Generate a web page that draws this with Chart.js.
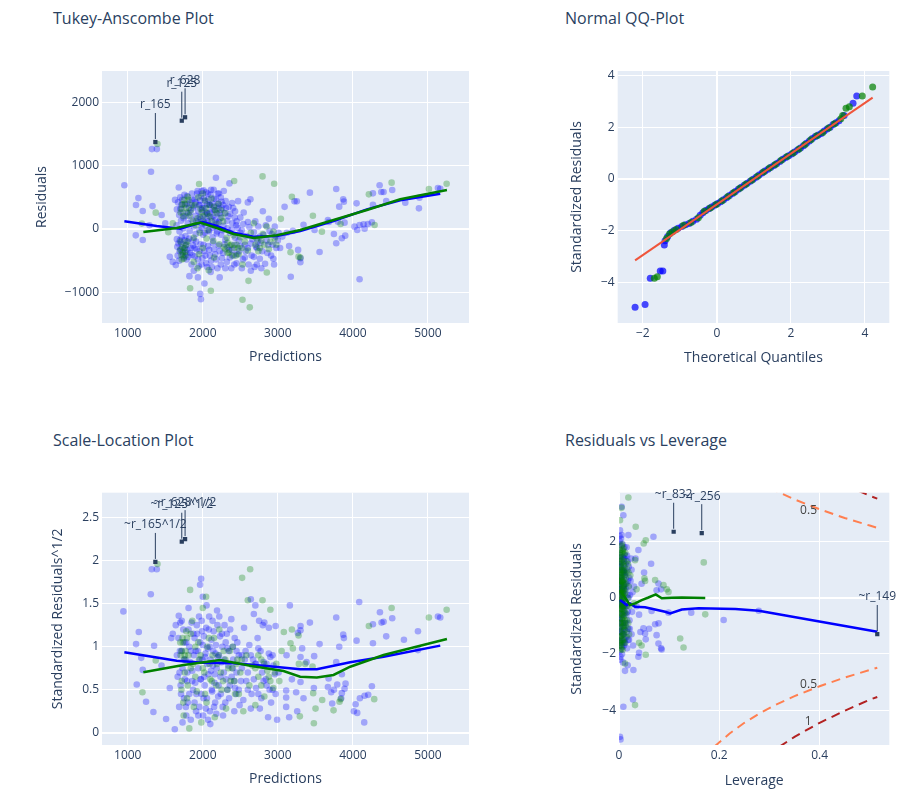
<!DOCTYPE html>
<html>
<head>
<meta charset="utf-8">
<script src="https://cdn.jsdelivr.net/npm/chart.js@4.4.1/dist/chart.umd.min.js"></script>
<style>
  body { margin: 0; background: #fff; font-family: "Open Sans", sans-serif; }
  #page { position: relative; width: 908px; height: 797px; overflow: hidden; }
  canvas { position: absolute; }
  .ttl { position: absolute; font-size: 16px; line-height: 20px; color: #2a3f5f; white-space: nowrap; }
</style>
</head>
<body>
<div id="page">
  <div class="ttl" style="left:53px;top:8px">Tukey-Anscombe Plot</div>
  <div class="ttl" style="left:565px;top:8px">Normal QQ-Plot</div>
  <div class="ttl" style="left:53px;top:430px">Scale-Location Plot</div>
  <div class="ttl" style="left:565px;top:430px">Residuals vs Leverage</div>
  <canvas id="ta" width="480" height="398" style="left:0;top:0"></canvas>
  <canvas id="qq" width="428" height="398" style="left:480px;top:0"></canvas>
  <canvas id="sl" width="480" height="397" style="left:0;top:400px"></canvas>
  <canvas id="rl" width="428" height="397" style="left:480px;top:400px"></canvas>
</div>
<script>
/* ============================================================
   DATA
============================================================ */
// Tukey-Anscombe: [prediction, residual]
const TA_BLUE = [
  [955,690],[1310,905],[1322,1262],[1388,1262],[1142,488],[1110,380],[1200,284],[1330,362],[1452,222],[1107,-100],[1200,-174],[1290,60],[1500,90],
  [1630,460],[1680,655],[1700,320],[1725,460],[1745,170],[1760,380],[1790,520],[1810,250],[1830,420],[1855,560],[1870,330],[1895,470],[1910,210],
  [1930,600],[1950,380],[1975,520],[1990,300],[2010,610],[2030,440],[2050,260],[2070,560],[2090,380],[2110,620],[2130,300],[2150,480],[2175,810],
  [2180,360],[2200,560],[2225,250],[2250,430],[2280,600],[2310,330],[2340,200],[2355,720],[2390,410],[2430,280],[2470,440],[2500,180],[2545,260],
  [2600,420],[2635,470],
  [1650,60],[1690,-40],[1710,130],[1740,10],[1770,-110],[1800,90],[1825,-30],[1850,150],[1880,40],[1905,-80],[1935,110],[1960,190],[1985,20],
  [2005,130],[2025,-60],[2055,160],[2080,-20],[2105,70],[2130,-130],[2160,40],[2190,-40],[2215,110],[2245,-90],[2275,50],[2300,-170],[2330,10],
  [2360,-60],[2395,90],[2430,-140],[2465,20],[2500,-60],[2540,80],[2580,-110],[2620,30],[2660,-160],[2700,120],[2730,-200],
  [1660,-280],[1690,-350],[1715,-230],[1735,-420],[1760,-300],[1785,-480],[1800,-200],[1830,-380],[1850,-560],[1870,-260],[1895,-430],[1920,-320],
  [1945,-590],[1970,-240],[1995,-460],[2020,-350],[2045,-540],[2070,-270],[2095,-420],[2120,-600],[2150,-320],[2180,-480],[2210,-260],[2240,-560],
  [2270,-380],[2300,-620],[2330,-290],[2360,-450],[2390,-330],[2420,-560],[2460,-400],[2500,-270],[2535,-480],[2570,-350],[2610,-560],[2650,-420],
  [2690,-600],[2720,-300],[2760,-470],[2790,-350],[2830,-550],[2870,-250],[2910,-420],[2950,-560],[2980,-300],
  [1560,-440],[1600,-520],[1640,-570],[1822,-745],[1935,-765],[2022,-860],[1965,-1025],[1975,-1110],[2225,-765],[2105,-680],[1880,-660],
  [2760,-120],[2800,280],[2840,60],[2880,160],[2920,-80],[2960,40],[3000,-180],[3030,-300],[3060,-120],[3090,350],[3120,-60],[3150,-270],
  [3172,-755],[3200,-30],[3222,437],[3253,437],[3270,-330],[3300,-525],[3302,-463],[3342,68],[3427,574],[3489,-16],[3556,-363],[3667,142],
  [3680,110],[3747,-79],[3778,632],[3778,-226],[3800,116],[3818,353],[3853,-147],[3871,468],[3880,432],[3889,100],[3898,-105],[4022,37],
  [4049,405],[4058,-16],[4089,63],[4089,-795],[4142,74],[4156,5],[4200,79],[4253,105],[4267,563],[4267,384],[4356,690],[4378,584],[4409,584],
  [4444,442],[4524,616],[4698,416],[4880,326],[4887,495],[5133,647],[5164,637],
  [1905,420],[1915,120],[1925,560],[1940,280],[1955,-20],[1965,450],[1975,160],[1985,600],[1995,330],[2005,-90],[2015,490],[2025,230],[2035,50],
  [2045,580],[2055,390],[2065,120],[2075,470],[2085,-40],[2095,260],[2105,540],[2115,180],[2125,400],[2135,20],[2145,620],[2155,300],[2165,140],
  [2175,470],[2185,-70],[2195,240],[2205,400],[2215,560],[2235,170],[2255,330],[2265,-20],[2285,250],[2305,440],[2325,130],[2345,350],[2365,240],
  [2385,-10],[2405,330],[2425,180],[2445,60],[1960,380],[1990,80],[2020,340],[2060,240],[2100,380],[2140,200],[2180,100],[2210,330],[2240,500],
  [2270,380],
  [1655,-160],[1665,-420],[1675,-230],[1685,-500],[1695,-180],[1705,-320],[1720,-130],[1730,-360],[1750,-450],[1755,-180],[1770,-260],[1780,-380],
  [1795,-330],[1810,-440],[1820,-150],[1840,-300],[1860,-410],[1875,-170],[1890,-300],
  [1655,310],[1670,420],[1685,220],[1700,500],[1715,380],[1735,260],[1755,540],[1770,200],[1790,400],[1815,330],[1835,260],[1860,460],[1880,360],
  [1910,-200],[1935,-480],[1960,-350],[1985,-560],[2010,-250],[2035,-420],[2060,-600],[2085,-330],[2110,-500],[2135,-220],[2165,-400],[2195,-620],
  [2225,-350],[2255,-460],[2290,-240],[2320,-520],[2350,-330],[2380,-620],[2410,-420],[2450,-540],[2480,-350],[2520,-620],[2560,-450],[2600,-300],
  [2640,-660],[2680,-440],[2720,-560],[2780,-620],[2860,-380],[2940,-470],
  [2420,-250],[2450,120],[2480,-180],[2520,-20],[2560,-250],[2600,110],[2640,-230],[2680,-50],[2710,-280],[2740,40],[2770,-220],[2810,-90],
  [2850,-180],[2890,-30],[2930,-250],[2970,-120],[3010,-60]
];
const TA_GREEN = [
  [1396,1342],[1373,258],[1187,85],[1951,710],[2418,758],[2796,831],[2951,716],[3187,510],[3467,210],[3587,-42],[3836,79],[4213,547],[4289,63],
  [4516,732],[5013,632],[5249,716],[3169,-368],[3276,-437],[3300,-450],
  [1700,-330],[1715,-410],[1730,-290],[1745,-470],[1765,-360],[1780,-250],[1705,260],[1725,390],[1750,460],[1780,330],[1800,510],[1825,210],
  [1850,380],[1880,-140],[1905,60],[1930,170],[1960,-60],[1985,260],[2000,560],[2015,100],[2040,330],[2065,-20],[2090,200],[2115,480],[2140,-190],
  [2165,300],[2195,80],[2220,-240],[2250,180],[2280,-290],[2300,250],[2320,-140],[2350,-370],[2380,-250],[2410,-100],[2440,-420],[2470,-300],
  [2500,-130],[2530,-560],[2560,-200],[2600,-340],[2640,-60],[2680,90],[2720,-150],[2760,-300],[2800,-80],[2850,40],[2900,-200],[2940,-40],
  [2980,-250],[3040,160],
  [1831,-936],[2107,-975],[2529,-1117],[2626,-1238],[2609,-819],[2853,-687],[2080,-650],[1930,-620],[1540,-50],[1600,90],
  [1705,-200],[1720,-480],[1735,-380],[1755,-300],[1770,-420],[1790,-200],[1715,320],[1740,200],[1760,400],[1790,260],[1810,460],[1840,300],
  [1870,120],[1900,380],[1940,500],[1970,320],[2000,200],[2030,450],[2060,250],[2090,380],[2120,120],[2150,350],[2180,250],[2210,400],[2240,300],
  [2270,120],[2300,-320],[2330,-380],[2360,-260],[2390,-420],[2420,-300],[2450,-250],[2480,-400],[2330,-220],[2520,-300],[2700,-250],[2740,-350],
  [2780,-180],[2820,-250],[2880,-320],[2960,-150],[2000,-300],[2050,-150],[1950,-400],[2150,-450],[1880,-520]
];
const TA_LOWESS_BLUE = [[955,121],[1386,47],[1697,5],[2000,110],[2187,47],[2409,-58],[2676,-121],[2987,-110],[3298,-32],[3742,126],[4187,310],[4631,453],[5164,558]];
const TA_LOWESS_GREEN = [[1208,-47],[1653,16],[1964,100],[2187,16],[2409,-79],[2676,-142],[2987,-100],[3298,-16],[3742,142],[4187,300],[4631,469],[5253,616]];
const TA_NOTE_TEXT = ["r_165", "r_125", "r_628"];
const TA_NOTE_X = [1368, 1720, 1764];
const TA_NOTE_Y = [1374, 1711, 1765];

// Normal QQ: [theoretical quantile, standardized residual]
const QQ_BLUE = [
  [-2.21,-4.95],[-1.94,-4.85],[-1.80,-3.83],[-1.53,-3.55],[-1.46,-3.55],[-1.42,-2.55],
  [-1.40,-2.38],[-1.33,-2.22],[-1.25,-2.08],[-1.15,-1.98],[-1.05,-1.90],[-0.95,-1.83],[-0.85,-1.77],[-0.75,-1.72],[-0.65,-1.63],[-0.55,-1.55],
  [-0.45,-1.40],[-0.38,-1.30],[-0.30,-1.22],[-0.22,-1.15],[-0.14,-1.08],[-0.06,-1.01],[0.02,-0.95],[0.10,-0.88],[0.18,-0.80],[0.26,-0.72],
  [0.34,-0.64],[0.42,-0.56],[0.50,-0.48],[0.58,-0.40],[0.66,-0.32],[0.74,-0.24],[0.82,-0.16],[0.90,-0.09],[0.98,-0.01],[1.06,0.07],[1.14,0.15],
  [1.22,0.23],[1.30,0.31],[1.38,0.38],[1.46,0.45],[1.54,0.52],[1.62,0.60],[1.70,0.68],[1.78,0.76],[1.86,0.83],[1.94,0.90],[2.02,0.97],[2.10,1.04],
  [2.18,1.12],[2.26,1.20],[2.34,1.28],[2.42,1.38],[2.50,1.47],[2.58,1.56],[2.66,1.64],[2.74,1.70],[2.82,1.76],[2.90,1.85],[2.98,1.93],[3.06,2.00],
  [3.14,2.10],[3.22,2.17],[3.30,2.25],[3.44,2.45],[3.68,2.92],[3.78,3.20]
];
const QQ_GREEN = [
  [-1.69,-3.83],[-1.61,-3.77],
  [-1.36,-2.30],[-1.28,-2.12],[-1.20,-2.04],[-1.10,-1.95],[-0.90,-1.79],[-0.70,-1.68],[-0.50,-1.50],[-0.34,-1.25],[-0.18,-1.12],[-0.02,-0.98],
  [0.14,-0.84],[0.30,-0.68],[0.46,-0.52],[0.62,-0.36],[0.78,-0.20],[0.94,-0.05],[1.10,0.11],[1.26,0.27],[1.42,0.42],[1.58,0.56],[1.74,0.72],
  [1.90,0.87],[2.06,1.00],[2.22,1.16],[2.38,1.33],[2.54,1.52],[2.70,1.67],[2.86,1.80],[3.02,1.97],[3.18,2.13],[3.35,2.33],
  [3.40,2.45],[3.49,2.73],[3.58,2.79],[3.93,3.20],[4.21,3.55]
];
const QQ_LINE = [[-2.21,-3.14],[4.21,3.14]];

// Scale-Location: [prediction, sqrt(|standardized residual|)]
const SL_BLUE = [
  [942,1.41],[1307,1.61],[1320,1.90],[1387,1.90],[1147,1.17],[1111,1.03],[1351,1.01],[1200,0.73],[1244,0.36],[1342,0.24],[1511,0.16],[1627,0.04],
  [1120,0.56],[1180,0.87],[1450,0.78],[1560,0.52],[1580,1.10],[1600,1.15],[1640,1.25],
  [1964,1.72],[1978,1.79],[2000,1.58],[1680,1.36],[1700,1.28],[1720,0.95],[1740,1.20],[1760,0.62],[1780,1.05],[1800,0.35],[1810,1.45],[1830,0.82],
  [1850,1.28],[1870,0.50],[1890,1.10],[1910,0.25],[1930,0.95],[1950,1.35],[1970,0.62],[1990,1.18],[2010,0.40],[2030,0.88],[2050,1.48],[2070,0.15],
  [2090,1.00],[2110,0.72],[2130,1.30],[2150,0.30],[2170,0.92],[2190,1.42],[2210,0.55],[2230,1.12],[2250,0.82],[2270,0.20],[2290,1.25],[2310,0.62],
  [2330,0.98],[2350,0.40],[2380,1.32],[2400,0.75],[2430,0.52],[2460,1.05],[2490,0.32],[2520,0.90],[2550,1.22],[2580,0.60],[2620,1.02],[2650,0.45],
  [2680,1.38],[2700,0.80],[2730,1.10],[2760,0.28],[2790,0.70],[2820,1.28],[2850,0.55],[2880,0.92],[2910,0.35],[2940,0.78],[2970,1.24],
  [1690,0.70],[1710,0.45],[1730,0.12],[1750,0.85],[1775,0.30],[1790,0.60],[1820,1.00],[1840,0.15],[1860,0.72],[1880,0.90],[1900,0.58],[1920,1.25],
  [1940,0.20],[1960,0.85],[1980,0.45],[2000,1.02],[2020,0.65],[2040,0.28],[2060,0.80],[2080,1.20],[2100,0.10],[2120,0.50],[2140,0.95],[2160,0.68],
  [2180,0.22],[2200,0.88],[2220,1.35],[2240,0.45],[2260,1.00],[2280,0.70],[2300,0.35],[2320,1.15],[2340,0.78],[2360,0.55],[2400,1.00],[2420,0.25],
  [2450,0.70],[2480,0.90],[2510,0.60],[2540,0.38],[2570,0.95],[2600,0.70],[2640,0.28],[2670,0.85],[2710,0.52],[2740,0.98],[2780,0.40],[2810,0.82],
  [2840,0.62],[2870,0.18],[2900,0.88],[2930,0.50],[2960,0.68],[2990,0.15],[2640,1.55],[2700,1.48],[2750,1.30],[2800,1.25],[2880,1.22],
  [3116,0.90],[3160,1.48],[3151,0.18],[3187,0.62],[3244,0.47],[3258,0.25],[3267,1.16],[3302,1.24],[3302,1.19],[3302,0.88],[3302,0.59],[3111,0.49],
  [3111,0.41],[3111,0.30],[3324,0.98],[3342,0.40],[3382,0.82],[3427,1.28],[3480,0.52],[3484,0.89],[3556,1.03],[3667,0.53],[3676,0.63],[3711,0.47],
  [3724,0.34],[3747,0.50],[3778,1.34],[3778,0.82],[3791,0.56],[3818,1.00],[3844,0.40],[3853,0.46],[3853,0.68],[3871,1.14],[3880,1.10],[3889,0.51],
  [3902,0.57],[4013,0.25],[4036,0.33],[4049,1.07],[4058,0.23],[4084,1.52],[4093,0.40],[4151,0.12],[4156,0.43],[4204,0.44],[4253,0.54],[4267,1.26],
  [4267,1.04],[4360,1.40],[4382,1.28],[4409,1.29],[4444,1.12],[4524,1.33],[4680,1.08],[4867,1.18],[4867,0.96],[5133,1.35],[5164,1.34],
  [1905,0.95],[1915,0.45],[1925,1.15],[1940,0.75],[1955,0.30],[1965,1.05],[1975,0.62],[1985,1.30],[1995,0.85],[2005,0.20],[2015,1.12],[2025,0.55],
  [2035,0.92],[2045,1.22],[2055,0.40],[2065,0.98],[2075,0.68],[2085,1.35],[2095,0.25],[2105,0.85],[2115,1.08],[2125,0.48],[2135,0.78],[2145,1.18],
  [2155,0.58],[2165,0.35],[2175,1.02],[2185,0.75],[2195,1.25],[2205,0.42],[2215,0.90],[2235,0.65],[2255,1.15],[2265,0.30],[2285,0.85],[2305,1.05],
  [2325,0.50],[2345,0.95],[2365,1.20],[2385,0.65],[2405,0.85],[2425,1.10],[2445,0.45],
  [1655,0.90],[1665,0.65],[1675,1.10],[1685,0.30],[1695,0.95],[1705,0.55],[1720,1.30],[1730,0.75],[1750,0.40],[1755,1.05],[1770,0.85],[1780,0.20],
  [1795,0.70],[1810,1.20],[1820,0.45],[1840,0.95],[1860,0.60],[1875,1.15],[1890,0.35],
  [2420,0.60],[2450,0.95],[2480,0.50],[2520,0.75],[2560,0.85],[2600,0.50],[2640,0.90],[2680,0.62],[2710,0.80],[2740,0.45],[2770,0.95],[2810,0.60],
  [2850,0.80],[2890,0.50],[2930,0.90],[2970,0.45],[3010,0.70]
];
const SL_GREEN = [
  [1396,1.96],[1373,0.84],[1196,0.47],[1831,1.66],[2044,1.58],[2524,1.80],[2631,1.90],[2600,1.54],[2796,1.54],[2900,1.43],
  [1700,1.05],[1715,0.95],[1730,1.10],[1745,0.20],[1760,0.90],[1780,1.18],[1800,0.55],[1820,0.05],[1840,0.75],[1860,1.30],[1880,0.30],[1900,1.00],
  [1920,0.48],[1950,0.85],[1980,0.12],[2000,1.45],[2020,0.70],[2050,0.35],[2080,1.10],[2100,0.62],[2130,0.90],[2160,0.18],[2190,0.80],[2220,1.20],
  [2250,0.50],[2280,0.95],[2310,0.28],[2340,0.75],[2370,0.60],[2400,1.00],[2430,0.45],[2460,0.85],[2500,0.70],[2540,0.25],[2580,0.90],[2620,0.55],
  [2660,0.78],[2700,0.32],[2740,0.65],[2780,0.85],[2820,0.42],[2860,0.72],[2900,0.60],[2940,0.52],[2980,0.80],[3050,0.95],
  [3169,1.04],[3187,1.20],[3276,1.13],[3280,0.80],[3293,0.19],[3364,0.80],[3462,0.77],[3471,0.46],[3480,0.11],[3502,0.28],[3591,0.38],[3742,0.26],
  [3822,0.36],[3836,0.39],[4213,1.24],[4284,0.39],[4516,1.45],[5013,1.34],[5249,1.43],[3080,1.17],[3200,0.98],[3020,0.60],
  [1705,0.90],[1720,0.60],[1735,1.05],[1755,0.85],[1770,0.95],[1790,1.10],[1715,0.50],[1740,0.35],[1760,0.70],[1790,0.40],[1810,0.90],[1840,1.15],
  [1870,0.80],[1900,0.65],[1940,1.05],[1970,0.90],[2000,0.75],[2030,0.45],[2060,1.00],[2090,0.80],[2120,0.60],[2150,1.10],[2180,0.55],[2210,0.90],
  [2240,0.70],[2270,0.60],[2300,0.85],[2330,0.50],[2360,0.95],[2390,0.75],[2420,0.60],[2450,0.80],[2480,0.45],[2520,0.85],[2700,0.75],[2740,0.90],
  [2780,0.55],[2820,0.80],[2880,0.65],[2960,0.70]
];
const SL_LOWESS_BLUE = [[955,0.935],[1653,0.837],[2000,0.814],[2409,0.807],[2853,0.776],[3298,0.737],[3520,0.737],[3964,0.819],[4409,0.884],[5164,1.012]];
const SL_LOWESS_GREEN = [[1208,0.702],[1742,0.787],[2231,0.845],[2631,0.779],[3076,0.717],[3298,0.651],[3520,0.643],[3742,0.671],[3964,0.767],[4409,0.903],[5253,1.09]];
const SL_NOTE_TEXT = ["~r_165^1/2", "~r_125^1/2", "~r_628^1/2"];
const SL_NOTE_X = [1368, 1720, 1764];
const SL_NOTE_Y = [1.985, 2.22, 2.25];

// Residuals vs Leverage: [leverage, standardized residual]
const RL_BLUE = [
  [0.001,1.9],[0.002,1.5],[0.003,1.1],[0.004,0.7],[0.005,0.3],[0.006,-0.1],[0.007,-0.5],[0.008,-0.9],[0.009,-1.3],[0.010,-1.7],[0.0015,-1.9],
  [0.0025,-1.4],[0.0035,-1.0],[0.0045,-0.6],[0.0055,-0.2],[0.0065,0.2],[0.0075,0.6],[0.0085,1.0],[0.0095,1.4],[0.011,1.8],[0.001,0.0],[0.002,0.5],
  [0.003,-0.4],[0.004,1.3],[0.005,-1.2],[0.006,0.9],[0.007,-1.6],[0.008,0.1],[0.009,0.4],[0.010,-0.3],[0.012,0.8],[0.012,-0.9],[0.013,1.2],
  [0.013,-1.4],[0.014,0.3],[0.015,-0.6],[0.016,1.5],[0.016,-1.8],[0.018,0.6],[0.019,-1.1],[0.001,2.2],[0.002,2.4],[0.0053,3.24],[0.0087,2.94],
  [0.0053,2.23],[0.0187,2.23],[0.003,-2.1],[0.008,-2.3],[0.0173,-2.4],[0.0287,-2.57],[0.012,-2.6],
  [0.0687,2.17],[0.0387,1.70],[0.064,1.21],[0.0787,0.51],[0.084,0.30],[0.075,0.27],[0.0987,-0.53],[0.065,-0.47],[0.144,-0.53],[0.2087,-0.79],
  [0.2787,-0.46],[0.075,-1.33],[0.0787,-1.63],[0.084,-1.80],[0.085,-1.84],[0.079,-0.91],[0.072,-0.94],[0.0487,-1.09],[0.052,-1.27],[0.0533,-1.48],
  [0.0387,-2.10],[0.04,-1.96],[0.028,-3.62],[0.0087,-3.88],[0.002,-4.95],[0.003,-5.04],[0.025,1.0],[0.03,0.4],[0.035,-0.3],[0.045,0.5],[0.02,-1.5],
  [0.028,-1.7],[0.033,1.4],[0.04,-0.6],[0.05,0.9],[0.022,0.1],[0.06,-1.1],[0.0427,-1.22],
  [0.0006,1.25],[0.0016,0.75],[0.0026,0.25],[0.0036,-0.25],[0.0046,-0.75],[0.0056,-1.25],[0.0066,-1.75],[0.0076,1.45],[0.0086,0.95],[0.0096,0.45],
  [0.0106,-0.05],[0.0116,-0.55],[0.001,-1.05],[0.002,-1.55],[0.003,1.7],[0.004,1.2],[0.005,0.75],[0.006,0.3],[0.007,-0.2],[0.008,-0.6],[0.009,-1.05],
  [0.01,0.9],[0.011,0.25],[0.012,-0.3],[0.0004,-0.2],[0.0014,0.45],[0.0024,-0.7],[0.0034,1.45],[0.0044,-1.5],[0.0054,1.0],[0.0064,-0.9],[0.0074,0.4],
  [0.0084,-1.3],[0.0094,1.2],[0.0104,-1.5],[0.0114,1.0],[0.0125,1.5],[0.0135,-0.2],[0.0145,0.9],[0.0155,-1.2],[0.0165,0.1],[0.0175,-0.5],
  [0.0185,0.4],[0.0195,1.1],[0.021,-0.8],[0.023,0.6],[0.025,-1.3],[0.027,0.2],[0.0015,2.0],[0.004,2.1],[0.0025,-2.2],[0.006,-2.0],
  [0.0005,0.4],[0.0012,-0.8],[0.0022,1.1],[0.0032,-1.2],[0.0042,0.1],[0.0052,-1.7],[0.0062,0.6],[0.0072,1.9],[0.0082,-0.35],[0.0092,0.8],
  [0.0102,-1.1],[0.0112,1.4],[0.0122,-1.6],[0.0132,0.5],[0.0142,-0.9],[0.0152,1.8],[0.0162,-0.3],[0.0172,1.3],[0.0182,-1.5],[0.0192,0.0],
  [0.0205,0.7],[0.0215,-1.1],[0.024,1.4],[0.026,-0.5]
];
const RL_GREEN = [
  [0.0015,1.7],[0.0025,1.2],[0.0035,0.8],[0.0045,0.4],[0.0055,0.0],[0.0065,-0.4],[0.0075,-0.8],[0.0085,-1.2],[0.0095,-1.6],[0.001,-0.6],[0.002,0.2],
  [0.003,-1.1],[0.004,1.5],[0.005,-0.3],[0.006,0.6],[0.007,1.0],[0.008,-1.5],[0.009,0.3],[0.010,1.3],[0.011,-0.5],[0.012,0.9],[0.013,-1.0],
  [0.001,1.0],[0.002,-1.4],[0.003,0.5],[0.0045,-1.8],[0.006,1.9],[0.0075,-0.1],[0.015,0.5],[0.016,-0.8],[0.018,1.2],[0.02,-1.3],[0.002,2.76],
  [0.005,3.2],[0.0187,3.57],[0.0333,2.53],[0.0533,2.05],[0.0493,1.93],[0.032,1.34],[0.169,1.26],[0.0507,0.69],[0.052,0.6],[0.072,0.63],[0.0887,0.45],
  [0.0953,0.30],[0.0987,0.21],[0.172,-0.59],[0.122,-1.45],[0.1287,-1.77],[0.0533,-2.03],[0.045,-1.7],[0.012,-2.34],[0.032,-3.82],[0.03,-0.2],
  [0.04,-1.6],[0.035,0.3],
  [0.0008,1.45],[0.0018,0.95],[0.0028,0.45],[0.0038,-0.05],[0.0048,-0.55],[0.0058,-1.05],[0.0068,-1.55],[0.0078,1.65],[0.0088,1.15],[0.0098,0.65],
  [0.0108,0.15],[0.0012,-0.35],[0.0022,-0.85],[0.0032,-1.35],[0.0042,-1.85],[0.0052,1.85],[0.0062,1.35],[0.0072,0.85],[0.0082,0.35],[0.0092,-0.15],
  [0.0102,-0.65],[0.0112,-1.15],[0.0005,0.6],[0.0015,0.1],[0.0025,-0.4],[0.0035,-0.9],[0.0045,1.1],[0.0055,0.7],[0.0065,0.25],[0.0075,-0.3],
  [0.0085,-0.7],[0.0095,0.95],[0.0105,-1.3],[0.0115,0.5],[0.0008,-1.2],[0.0018,1.6],[0.0028,-1.6],[0.0038,1.0],[0.0048,0.15],[0.0058,-0.75],
  [0.0068,0.55],[0.0078,-1.0],[0.0088,0.05],[0.0098,-0.45],[0.0108,0.8],[0.0008,0.3],[0.0022,-0.1],[0.0036,0.2],[0.005,-0.2],[0.0064,-0.05],
  [0.0078,0.15],[0.0092,0.45],[0.0014,-0.55],[0.003,0.75],[0.0046,-1.35],[0.006,1.25],[0.0074,-1.85],[0.009,1.75],[0.0106,-0.9],[0.0012,-1.7],
  [0.0125,1.6],[0.0135,0.7],[0.0145,-0.3],[0.0155,-1.4],[0.0165,1.0],[0.0175,0.0],[0.0185,-0.9],[0.0195,0.4],[0.021,-0.3],[0.0225,0.8],
  [0.0008,0.8],[0.0016,-0.9],[0.0026,1.4],[0.0034,-0.2],[0.0044,0.6],[0.0054,-1.5],[0.0062,-0.6],[0.007,1.7],[0.0082,-0.3],[0.0094,-1.0],
  [0.0102,0.3],[0.011,1.1],[0.0118,-1.6],[0.0006,-1.6],[0.0014,1.3],[0.0024,0.6],[0.0034,-1.7],[0.0046,0.9],[0.0056,-0.4],[0.0066,1.6],
  [0.0076,-1.3],[0.0086,0.55],[0.0096,-0.25],[0.0106,1.55],[0.0116,-0.8],[0.0128,0.2],[0.0138,-0.55],[0.015,1.3],[0.017,-1.1],[0.019,0.9]
];
const RL_LOWESS_BLUE = [[0.002,-0.08],[0.0153,-0.26],[0.022,-0.2],[0.032,-0.32],[0.052,-0.34],[0.092,-0.5],[0.102,-0.56],[0.1253,-0.42],[0.1587,-0.37],[0.232,-0.40],[0.2787,-0.46],[0.515,-1.21]];
const RL_LOWESS_GREEN = [[0.002,0.27],[0.0153,-0.08],[0.022,-0.26],[0.032,-0.2],[0.0453,-0.08],[0.0587,0.01],[0.0733,0.12],[0.0853,-0.02],[0.1053,0],[0.1253,0.01],[0.172,-0.01]];
const COOK_05_UP = [[0.30,3.92],[0.31,3.83],[0.35,3.50],[0.40,3.15],[0.45,2.84],[0.50,2.57],[0.515,2.49]];
const COOK_05_DOWN = [[0.19,-5.30],[0.22,-4.84],[0.25,-4.45],[0.28,-4.12],[0.31,-3.83],[0.35,-3.50],[0.40,-3.15],[0.45,-2.84],[0.50,-2.57],[0.515,-2.49]];
const COOK_1_UP = [[0.45,4.02],[0.50,3.63],[0.515,3.53]];
const COOK_1_DOWN = [[0.32,-5.30],[0.35,-4.95],[0.40,-4.45],[0.45,-4.02],[0.50,-3.63],[0.515,-3.53]];
const COOK_TEXT = ["0.5", "0.5", "1"];
const COOK_TEXT_X = [0.378, 0.378, 0.377];
const COOK_TEXT_Y = [3.10, -3.08, -4.42];
const RL_NOTE_TEXT = ["~r_832", "~r_256", "~r_149"];
const RL_NOTE_X = [0.109, 0.165, 0.515];
const RL_NOTE_Y = [2.35, 2.30, -1.29];

// axis ticks
const TA_X_TICKS = [1000, 2000, 3000, 4000, 5000];
const TA_X_LABELS = ["1000", "2000", "3000", "4000", "5000"];
const TA_Y_TICKS = [-1000, 0, 1000, 2000];
const TA_Y_LABELS = ["\u22121000", "0", "1000", "2000"];
const QQ_X_TICKS = [-2, 0, 2, 4];
const QQ_X_LABELS = ["\u22122", "0", "2", "4"];
const QQ_Y_TICKS = [-4, -2, 0, 2, 4];
const QQ_Y_LABELS = ["\u22124", "\u22122", "0", "2", "4"];
const SL_Y_TICKS = [0, 0.5, 1, 1.5, 2, 2.5];
const SL_Y_LABELS = ["0", "0.5", "1", "1.5", "2", "2.5"];
const RL_X_TICKS = [0, 0.2, 0.4];
const RL_X_LABELS = ["0", "0.2", "0.4"];
const RL_Y_TICKS = [-4, -2, 0, 2];
const RL_Y_LABELS = ["\u22124", "\u22122", "0", "2"];

/* ============================================================
   HELPERS
============================================================ */
const INK = "#2a3f5f";
const BLUE_DOT = "rgba(0,0,255,0.3)";
const GREEN_DOT = "rgba(0,128,0,0.3)";
Chart.defaults.font.family = '"Open Sans", sans-serif';
Chart.defaults.color = INK;

const pts = (arr) => arr.map(([x, y]) => ({ x, y }));
const zip = (xs, ys) => xs.map((x, i) => ({ x, y: ys[i] }));

const plotBg = {
  id: "plotBg",
  beforeDraw(chart) {
    const { ctx, chartArea: a } = chart;
    ctx.save();
    ctx.fillStyle = "#E5ECF6";
    ctx.fillRect(a.left, a.top, a.width, a.height);
    ctx.restore();
  },
};

// arrows with labels above flagged points, plus free text labels
const notes = {
  id: "notes",
  afterDatasetsDraw(chart, args, opts) {
    const { ctx, scales } = chart;
    ctx.save();
    ctx.font = '12px "Open Sans", sans-serif';
    ctx.textAlign = "center";
    ctx.textBaseline = "middle";
    (opts.arrows || []).forEach((n) => {
      const px = scales.x.getPixelForValue(n.x);
      const py = scales.y.getPixelForValue(n.y);
      ctx.strokeStyle = INK;
      ctx.lineWidth = 1;
      ctx.beginPath();
      ctx.moveTo(px, py - 3);
      ctx.lineTo(px, py - 29);
      ctx.stroke();
      ctx.fillStyle = INK;
      ctx.fillText(n.text, px, py - 37);
    });
    (opts.texts || []).forEach((n) => {
      ctx.fillStyle = "#444";
      ctx.fillText(n.text, scales.x.getPixelForValue(n.x), scales.y.getPixelForValue(n.y));
    });
    ctx.restore();
  },
};

function axis(min, max, ticks, labels, title, fitSize, horizontal) {
  return {
    type: "linear",
    min,
    max,
    afterBuildTicks: (s) => { s.ticks = ticks.map((v) => ({ value: v })); },
    afterFit: (s) => {
      if (horizontal) s.height = fitSize;
      else s.width = fitSize;
    },
    ticks: {
      autoSkip: false,
      maxRotation: 0,
      padding: 3,
      color: INK,
      font: { size: 12 },
      callback: (v) => labels[ticks.indexOf(v)],
    },
    grid: {
      color: "#ffffff",
      lineWidth: (c) => (c.tick && c.tick.value === 0 ? 2 : 1),
      drawTicks: false,
    },
    border: { display: false },
    title: {
      display: true,
      text: title,
      color: INK,
      font: { size: 14 },
      padding: 0,
    },
  };
}

const dots = (data, color, r) => ({
  data: pts(data), backgroundColor: color, borderWidth: 0, pointRadius: r, pointHoverRadius: r,
});
const curve = (data, color, dash, w) => ({
  data: pts(data), showLine: true, borderColor: color, borderWidth: w || 2, borderDash: dash || [],
  pointRadius: 0, pointHoverRadius: 0, fill: false, tension: 0,
});
const marks = (xs, ys) => ({
  data: zip(xs, ys), pointStyle: "rect", backgroundColor: INK, borderWidth: 0, pointRadius: 3, pointHoverRadius: 3,
});

function makePanel(id, datasets, scales, padding, pluginOpts) {
  return new Chart(document.getElementById(id), {
    type: "scatter",
    data: { datasets },
    options: {
      responsive: false,
      animation: false,
      events: [],
      layout: { padding },
      scales,
      plugins: { legend: { display: false }, tooltip: { enabled: false }, notes: pluginOpts || {} },
    },
    plugins: [plotBg, notes],
  });
}

/* ============================================================
   PANELS
============================================================ */
makePanel(
  "ta",
  [
    marks(TA_NOTE_X, TA_NOTE_Y),
    curve(TA_LOWESS_GREEN, "#008000", null, 2.5),
    curve(TA_LOWESS_BLUE, "#0000ff", null, 2.5),
    dots(TA_GREEN, GREEN_DOT, 3.3),
    dots(TA_BLUE, BLUE_DOT, 3.3),
  ],
  {
    x: axis(657, 5547, TA_X_TICKS, TA_X_LABELS, "Predictions", 42.7, true),
    y: axis(-1485, 2496, TA_Y_TICKS, TA_Y_LABELS, "Residuals", 68.7, false),
  },
  { left: 33.3, top: 71, right: 11, bottom: 32.3 },
  { arrows: TA_NOTE_TEXT.map((t, i) => ({ text: t, x: TA_NOTE_X[i], y: TA_NOTE_Y[i] })) }
);

makePanel(
  "qq",
  [
    curve(QQ_LINE, "#EF553B"),
    dots(QQ_GREEN, "rgba(0,128,0,0.7)", 3.5),
    dots(QQ_BLUE, "rgba(0,0,255,0.7)", 3.5),
  ],
  {
    x: axis(-2.68, 4.66, QQ_X_TICKS, QQ_X_LABELS, "Theoretical Quantiles", 43.7, true),
    y: axis(-5.56, 4.17, QQ_Y_TICKS, QQ_Y_LABELS, "Standardized Residuals", 49.4, false),
  },
  { left: 88.3, top: 71, right: 18.7, bottom: 31.3 }
);

makePanel(
  "sl",
  [
    marks(SL_NOTE_X, SL_NOTE_Y),
    curve(SL_LOWESS_GREEN, "#008000", null, 2.5),
    curve(SL_LOWESS_BLUE, "#0000ff", null, 2.5),
    dots(SL_GREEN, GREEN_DOT, 3.3),
    dots(SL_BLUE, BLUE_DOT, 3.3),
  ],
  {
    x: axis(657, 5547, TA_X_TICKS, TA_X_LABELS, "Predictions", 42.7, true),
    y: axis(-0.143, 2.79, SL_Y_TICKS, SL_Y_LABELS, "Standardized Residuals^1/2", 52.1, false),
  },
  { left: 49.9, top: 92.7, right: 11, bottom: 9.3 },
  { arrows: SL_NOTE_TEXT.map((t, i) => ({ text: t, x: SL_NOTE_X[i], y: SL_NOTE_Y[i] })) }
);

makePanel(
  "rl",
  [
    marks(RL_NOTE_X, RL_NOTE_Y),
    curve(RL_LOWESS_GREEN, "#008000", null, 2.5),
    curve(RL_LOWESS_BLUE, "#0000ff", null, 2.5),
    curve(COOK_05_UP, "#FF7F50", [9, 6]),
    curve(COOK_05_DOWN, "#FF7F50", [9, 6]),
    curve(COOK_1_UP, "#B22222", [9, 6]),
    curve(COOK_1_DOWN, "#B22222", [9, 6]),
    dots(RL_GREEN, GREEN_DOT, 3.3),
    dots(RL_BLUE, BLUE_DOT, 3.3),
  ],
  {
    x: axis(0, 0.539, RL_X_TICKS, RL_X_LABELS, "Leverage", 44.1, true),
    y: axis(-5.24, 3.74, RL_Y_TICKS, RL_Y_LABELS, "Standardized Residuals", 50.7, false),
  },
  { left: 88.3, top: 92.7, right: 18.7, bottom: 7.9 },
  {
    arrows: RL_NOTE_TEXT.map((t, i) => ({ text: t, x: RL_NOTE_X[i], y: RL_NOTE_Y[i] })),
    texts: COOK_TEXT.map((t, i) => ({ text: t, x: COOK_TEXT_X[i], y: COOK_TEXT_Y[i] })),
  }
);
</script>
</body>
</html>
